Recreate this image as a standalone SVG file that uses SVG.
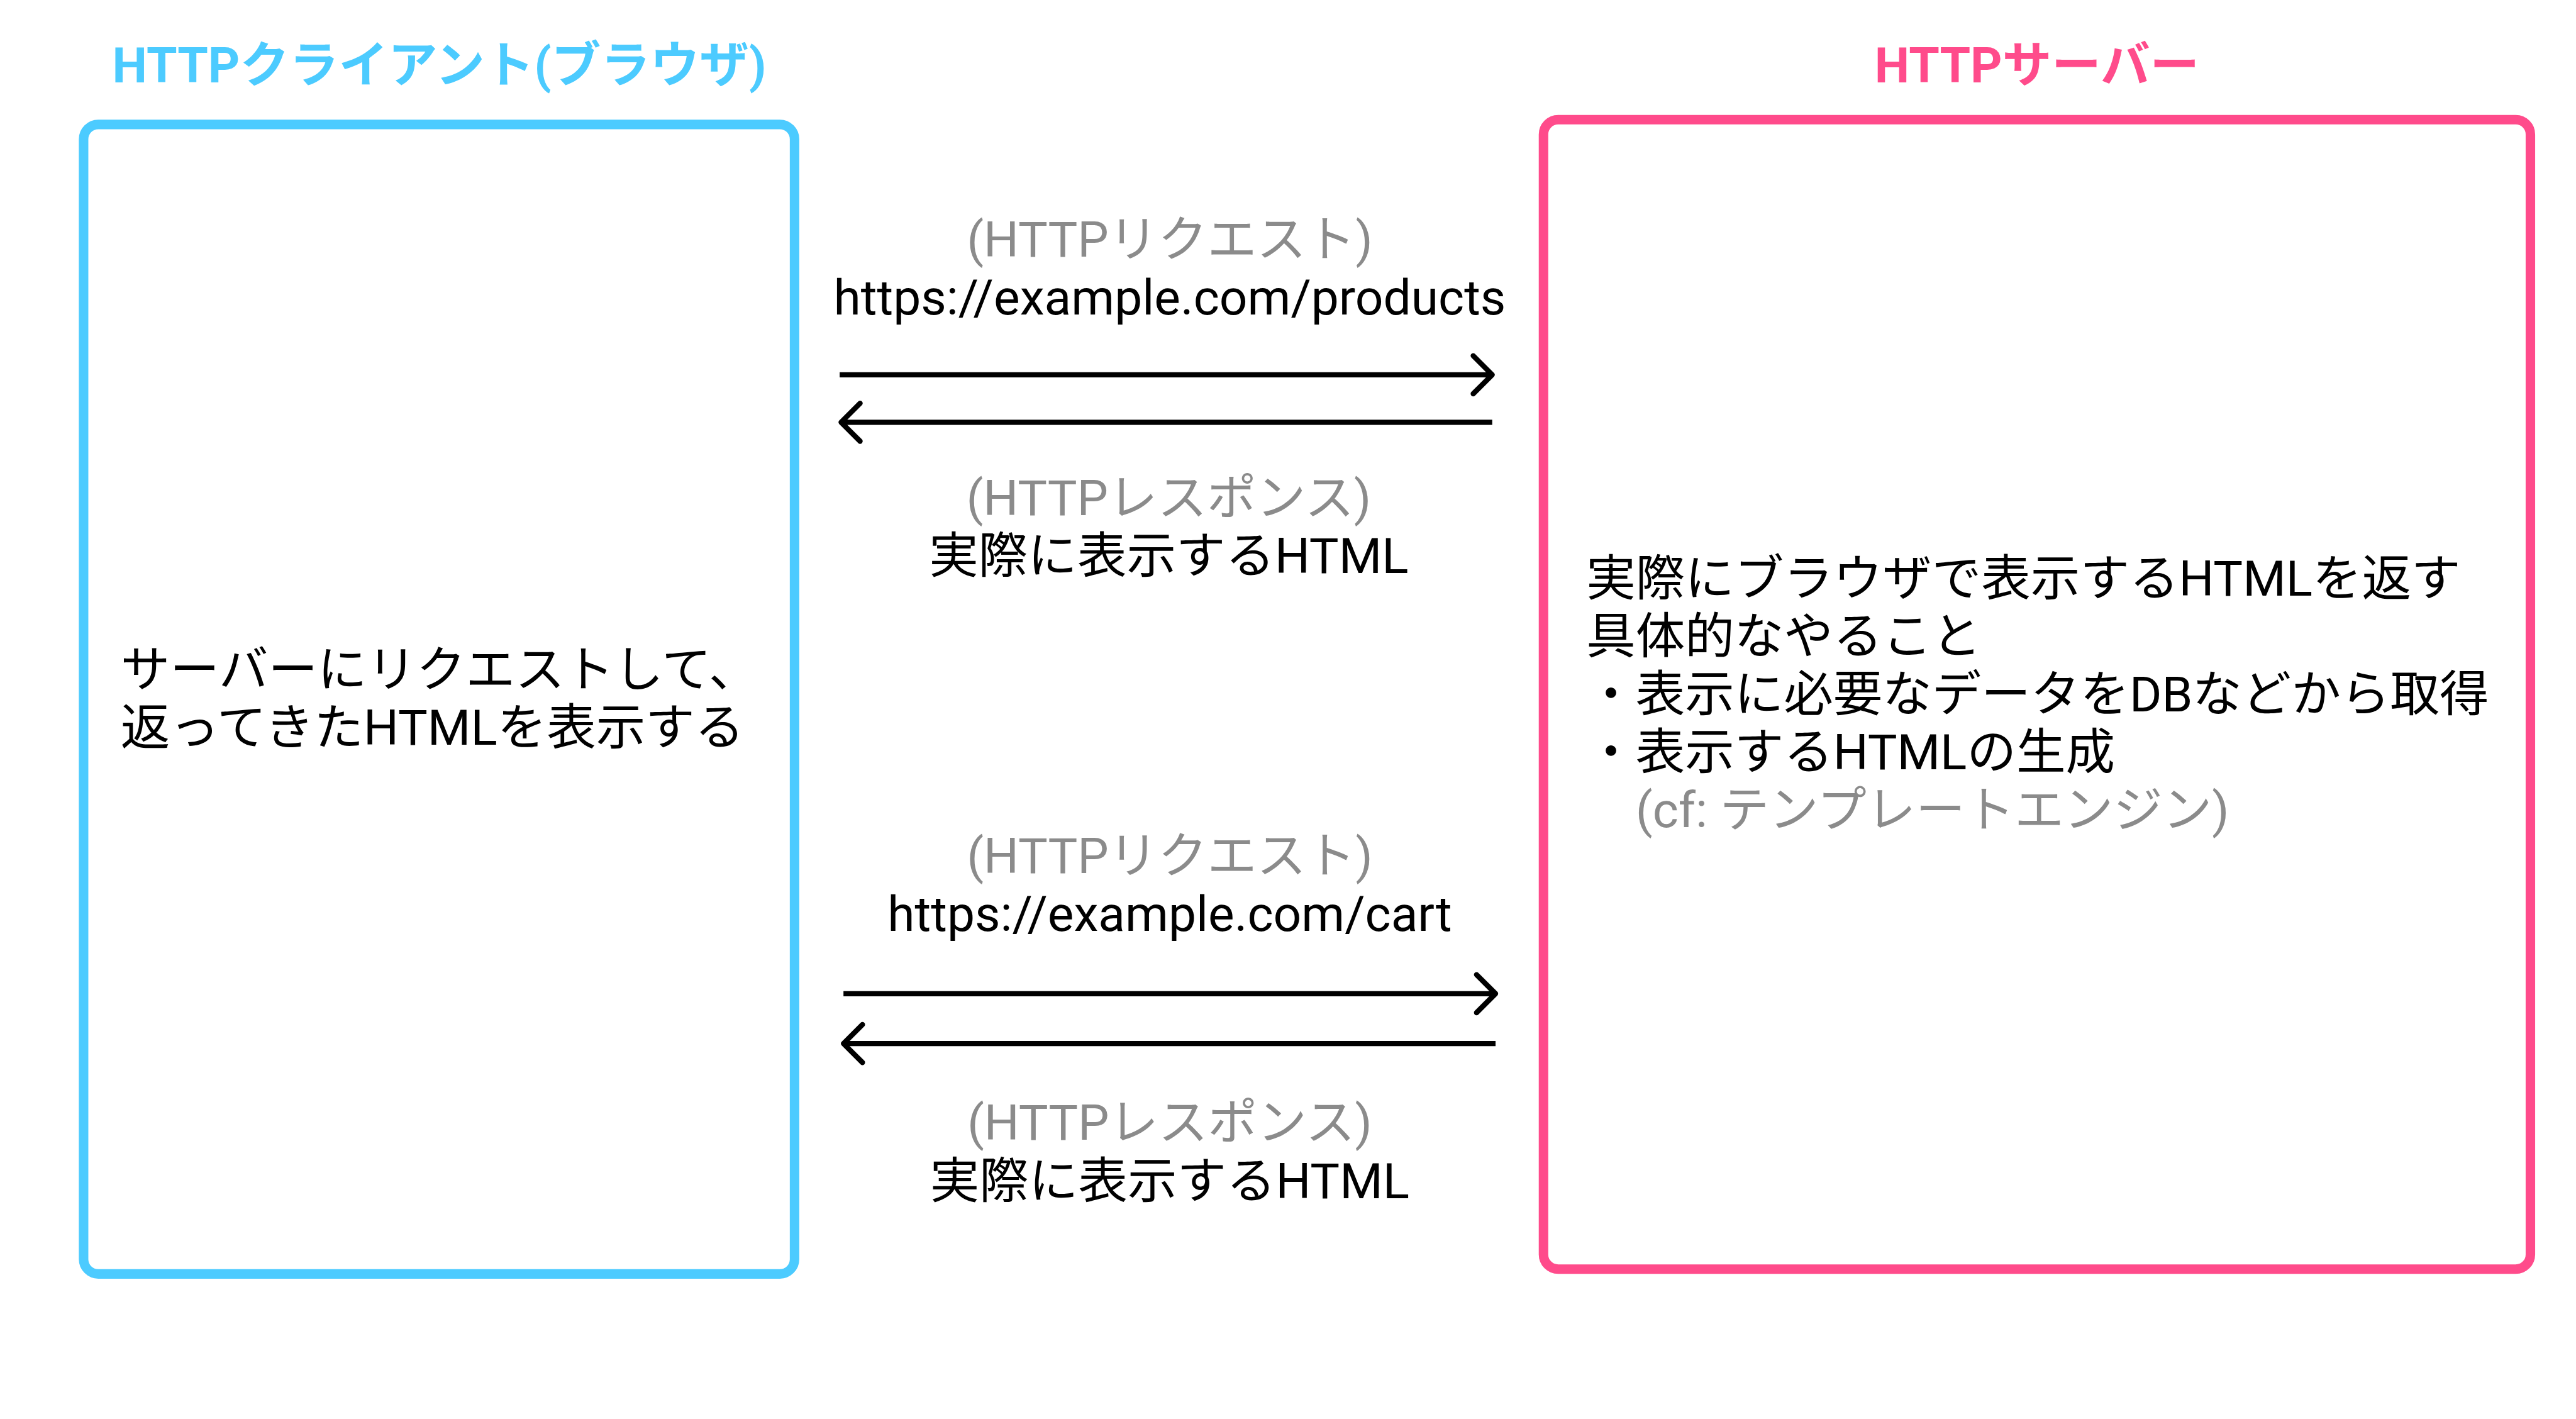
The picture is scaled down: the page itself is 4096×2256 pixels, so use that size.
<svg xmlns="http://www.w3.org/2000/svg" width="4096" height="2256" viewBox="0 0 4096 2256">
<style>
text { font-family: Roboto, "Noto Sans CJK JP", sans-serif; font-size: 104px; }
.title { font-weight: bold; text-anchor: middle; }
.blue { fill: #4CCBFF; }
.pink { fill: #FF4B8B; }
.gray { fill: #8B8B8B; }
.black { fill: #000000; }
.mid { text-anchor: middle; }
.box { fill: #FFFFFF; stroke-width: 20; }
.conn { fill: none; stroke: #000000; stroke-width: 11; stroke-linecap: butt; marker-end: url(#chev); }
</style>
<defs>
<marker id="chev" markerUnits="userSpaceOnUse" markerWidth="100" markerHeight="100" viewBox="-50 -50 100 100" refX="0" refY="0" orient="auto">
<path d="M -40 -40 L 0 0 L -40 40" fill="none" stroke="#000000" stroke-width="11" stroke-linecap="round" stroke-linejoin="round"/>
</marker>
</defs>
<rect width="4096" height="2256" fill="#FFFFFF"/>
<g transform="scale(0.755162)">
<g id="client">
<text class="title blue" x="925" y="174">HTTPクライアント(ブラウザ)</text>
<rect class="box" x="176" y="262" width="1497" height="2420" rx="31" ry="31" stroke="#4CCBFF"/>
<text class="black" x="254" y="1446">サーバーにリクエストして、</text>
<text class="black" x="254" y="1568">返ってきたHTMLを表示する</text>
</g>
<g id="server">
<text class="title pink" x="4289" y="174">HTTPサーバー</text>
<rect class="box" x="3250" y="252" width="2078" height="2420" rx="31" ry="31" stroke="#FF4B8B"/>
<text class="black" x="3340" y="1254">実際にブラウザで表示するHTMLを返す</text>
<text class="black" x="3340" y="1376">具体的なやること</text>
<text class="black" x="3340" y="1498">・表示に必要なデータをDBなどから取得</text>
<text class="black" x="3340" y="1620">・表示するHTMLの生成</text>
<text class="gray" x="3444" y="1742">(cf: テンプレートエンジン)</text>
</g>
<g id="labels">
<text class="gray mid" x="2463" y="540">(HTTPリクエスト)</text>
<text class="black mid" x="2463" y="662">https://example.com/products</text>
<text class="gray mid" x="2461" y="1084">(HTTPレスポンス)</text>
<text class="black mid" x="2461" y="1207">実際に表示するHTML</text>
<text class="gray mid" x="2463" y="1838">(HTTPリクエスト)</text>
<text class="black mid" x="2463" y="1960">https://example.com/cart</text>
<text class="gray mid" x="2463" y="2400">(HTTPレスポンス)</text>
<text class="black mid" x="2463" y="2522">実際に表示するHTML</text>
</g>
<g id="connectors">
<path class="conn" d="M 1768 789 H 3142"/>
<path class="conn" d="M 3142 889 H 1771"/>
<path class="conn" d="M 1776 2092 H 3149"/>
<path class="conn" d="M 3149 2197 H 1776"/>
</g>
</g>
</svg>
